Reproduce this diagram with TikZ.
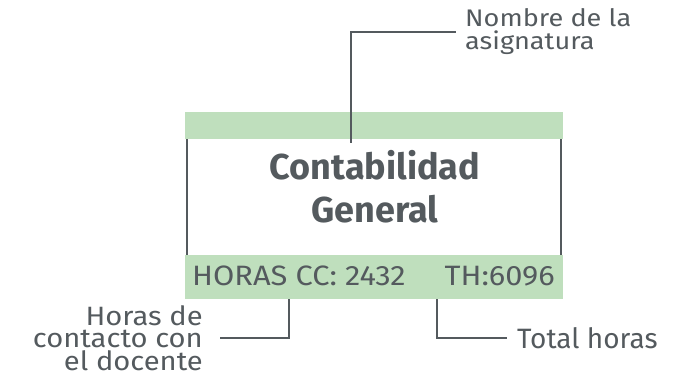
\documentclass[tikz,border=0pt]{standalone}
\usepackage{fontspec}
\setmainfont{Fira Sans}
\newfontfamily\widea[FakeStretch=1.13]{Fira Sans}
\newfontfamily\wideb[FakeStretch=1.1]{Fira Sans}
\definecolor{barg}{HTML}{BFDFBD}
\definecolor{ink}{HTML}{545A5E}
\tikzset{
  bar/.style={fill=barg, draw=none, inner sep=0pt, anchor=north west},
  frame/.style={draw=ink, line width=2pt},
  lead/.style={draw=ink, line width=2.6pt},
  txt/.style={text=ink, inner sep=0pt},
  ttl/.style={txt, font=\bfseries\fontsize{36}{36}\selectfont, anchor=base},
  hrs/.style={txt, font=\wideb\fontsize{28}{28}\selectfont},
}
\begin{document}
\begin{tikzpicture}[x=1pt,y=-1pt]
\useasboundingbox (0,0) rectangle (685,371);
\node[bar, minimum width=378pt, minimum height=27pt] (topbar) at (185,112) {};
\node[bar, minimum width=378pt, minimum height=44pt] (hours) at (185,255) {};
\draw[frame] ([xshift=2pt]topbar.south west) -- ([xshift=2pt]hours.north west);
\draw[frame] ([xshift=-2pt]topbar.south east) -- ([xshift=-2pt]hours.north east);
\node[ttl] (t1) at (375,180) {Contabilidad};
\node[ttl] (t2) at (375,223) {General};
\node[hrs, anchor=base west] (cc) at (192,285) {HORAS CC: 2432};
\node[hrs, anchor=base east] (th) at (555,285) {TH:6096};
% labels
\node[txt, anchor=base west, font=\widea\fontsize{24}{23.3}\selectfont, align=left] (nom) at (465,50) {Nombre de la\\asignatura};
\node[txt, anchor=base east, font=\wideb\fontsize{26.5}{22.5}\selectfont, align=right] (hcd) at (203,370) {Horas de\\contacto con\\el docente};
\node[txt, anchor=base west, font=\fontsize{28}{28}\selectfont] (tot) at (517,348) {Total horas};
% connectors
\coordinate (nomin) at (351,143);
\coordinate (ccout) at (289,299);
\coordinate (thout) at (437,299);
\draw[lead] (nomin) |- ([xshift=-9pt]nom.west |- 0,32);
\draw[lead] (ccout) |- ([xshift=17pt]hcd.east |- 0,338);
\draw[lead] (thout) |- ([xshift=-10pt]tot.west |- 0,338);
\end{tikzpicture}
\end{document}
